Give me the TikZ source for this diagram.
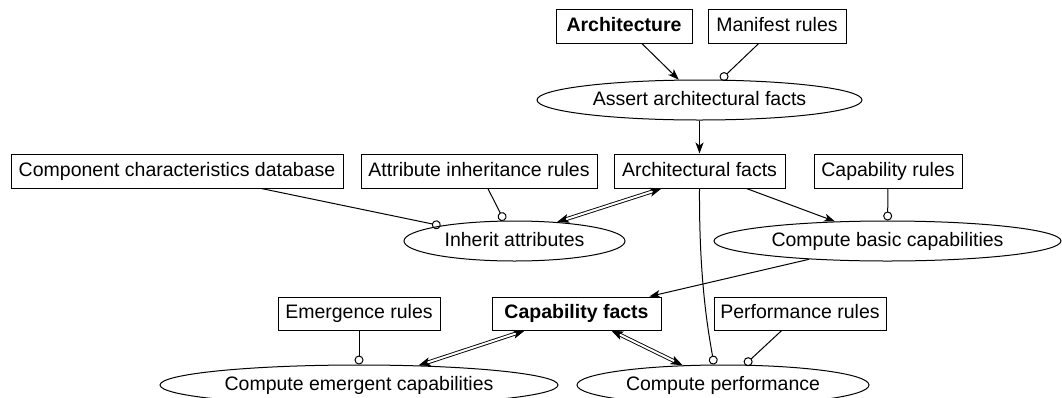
\documentclass[tikz,border=0pt]{standalone}
\usepackage{fontspec}
\setmainfont{Liberation Sans}
\usetikzlibrary{arrows.meta,shapes.geometric,calc}
\begin{document}
\begin{tikzpicture}[x=1pt,y=-1pt,
  every node/.style={font=\fontsize{19.5}{22}\selectfont, text height=14pt, text depth=4pt},
  box/.style={draw, line width=1pt, rectangle, minimum height=34pt, inner sep=0pt},
  boldbox/.style={box, font=\fontsize{19.5}{22}\selectfont\bfseries},
  proc/.style={draw, line width=1pt, ellipse, minimum height=40pt, inner sep=0pt,
    execute at begin node={\hbox to 0pt\bgroup\hss}, execute at end node={\hss\egroup}},
  flow/.style={line width=1pt, -{Stealth[length=11pt,width=8pt,inset=3pt]}},
  rule/.style={line width=1pt, -{Circle[open,length=9pt,width=9pt]}},
  dbl/.style={double, double distance=2pt, line width=0.9pt,
    {Stealth[length=12pt,width=9pt,inset=3pt]}-{Stealth[length=12pt,width=9pt,inset=3pt]}}
]
\useasboundingbox (0,0) rectangle (1062,397);
\fill[white] (0,0) rectangle (1062,397);

% boxes
\node[boldbox, minimum width=136pt] (arch) at (624,26) {Architecture};
\node[box, minimum width=138pt] (manifest) at (777,26) {Manifest rules};
\node[box, minimum width=171pt] (archfacts) at (699.5,171) {Architectural facts};
\node[box, minimum width=148pt] (caprules) at (888,171) {Capability rules};
\node[box, minimum width=332pt] (comp) at (177,171) {Component characteristics database};
\node[box, minimum width=236pt] (attr) at (479,171) {Attribute inheritance rules};
\node[boldbox, minimum width=169pt, minimum height=33pt] (capfacts) at (576.5,313.5) {Capability facts};
\node[box, minimum width=162pt, minimum height=33pt] (emerg) at (359,313.5) {Emergence rules};
\node[box, minimum width=172pt, minimum height=33pt] (perfrules) at (800,313.5) {Performance rules};

% processes
\node[proc, minimum width=325pt] (assert) at (699.5,100) {Assert architectural facts};
\node[proc, minimum width=221pt] (inherit) at (514.5,241) {Inherit attributes};
\node[proc, minimum width=347pt] (basic) at (887.5,241) {Compute basic capabilities};
\node[proc, minimum width=398pt] (emergent) at (359,385) {Compute emergent capabilities};
\node[proc, minimum width=292pt] (perf) at (723,385) {Compute performance};

% connectors
\draw[flow] (arch) -- (assert);
\draw[rule] (manifest) -- (assert);
\draw[flow] (assert) -- (archfacts);
\draw[rule] (comp) -- (inherit);
\draw[rule] (attr) -- (inherit);
\draw[dbl] ($(archfacts.south)+(-38,0)$) -- (inherit.24);
\draw[flow] (archfacts) -- (basic);
\draw[rule] (caprules) -- (basic);
\draw[flow] (basic) -- (capfacts);
\draw[rule] (archfacts.south) .. controls (699,280) and (708,330) .. ($(perf.north)+(-9,0)$);
\draw[rule] (emerg) -- (emergent);
\draw[dbl] (capfacts) -- (emergent);
\draw[dbl] (capfacts) -- (perf);
\draw[rule] (perfrules) -- (perf);
\end{tikzpicture}
\end{document}
